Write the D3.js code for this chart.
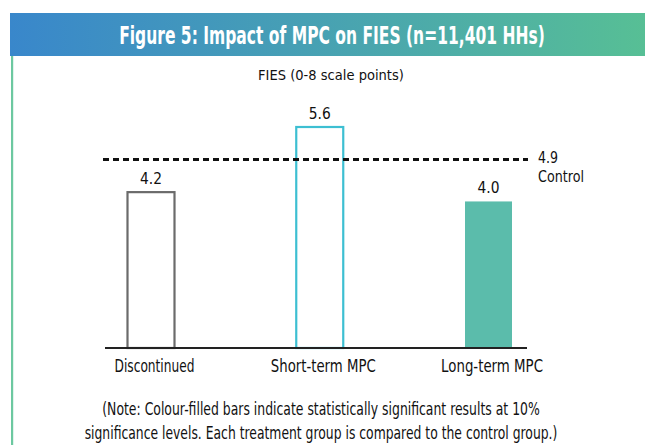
<!DOCTYPE html>
<html>
<head>
<meta charset="utf-8">
<script src="https://cdn.jsdelivr.net/npm/d3@7"></script>
<style>
  body { margin: 0; background: #fff; }
  svg text { font-family: "DejaVu Sans", sans-serif; }
</style>
</head>
<body>
<script>
var categories = ["Discontinued", "Short-term MPC", "Long-term MPC"];
var values = [4.2, 5.6, 4.0];
var labels = ["4.2", "5.6", "4.0"];
var significant = [false, false, true];
var controlValue = 4.9;
var controlLabels = ["4.9", "Control"];
var title = "Figure 5: Impact of MPC on FIES (n=11,401 HHs)";
var axisTitle = "FIES (0-8 scale points)";
var noteLines = ["(Note: Colour-filled bars indicate statistically significant results at 10%",
                 "significance levels. Each treatment group is compared to the control group.)"];

var width = 645, height = 445;
var barColors = ["#6b6b6b", "#3dbfd2", "#5bbcab"];

// the source uses a condensed face; squeeze DejaVu horizontally to the same widths
var catWidths = [80, 105, 102];
var ctlWidths = [20, 46];
var noteWidths = [438, 473];

// places text at (x, y) and scales it in x so it is w pixels wide
function condensed(sel, x, y, w, anchor) {
  sel.each(function(d, i) {
    var t = d3.select(this),
        xi = typeof x === "function" ? x(d, i) : x,
        yi = typeof y === "function" ? y(d, i) : y,
        wi = typeof w === "function" ? w(d, i) : w,
        natural = this.getComputedTextLength(),
        s = wi / natural;
    t.attr("x", 0).attr("y", 0)
     .attr("text-anchor", anchor || "middle")
     .attr("transform", "translate(" + xi + "," + yi + ") scale(" + s + ",1)");
  });
}

var svg = d3.select("body").append("svg")
    .attr("width", width)
    .attr("height", height);

// banner gradient
var grad = svg.append("defs").append("linearGradient")
    .attr("id", "banner")
    .attr("x1", "0%").attr("x2", "100%");
grad.append("stop").attr("offset", "0%").attr("stop-color", "#3987cb");
grad.append("stop").attr("offset", "50%").attr("stop-color", "#48a2b2");
grad.append("stop").attr("offset", "100%").attr("stop-color", "#57bf95");

svg.append("rect")
    .attr("x", 10).attr("y", 13)
    .attr("width", width - 10).attr("height", 43)
    .attr("fill", "url(#banner)");

// left border
svg.append("rect")
    .attr("x", 11).attr("y", 56)
    .attr("width", 2.2).attr("height", height - 56)
    .attr("fill", "#6cc8a0");

svg.append("text")
    .attr("fill", "#fff")
    .style("font-size", "25px")
    .style("font-weight", "bold")
    .text(title)
    .call(condensed, 332, 44, 426);

svg.append("text")
    .attr("fill", "#111")
    .style("font-size", "14.5px")
    .text(axisTitle)
    .call(condensed, 331, 80, 146);

// scales
var x = d3.scalePoint()
    .domain(categories)
    .range([151, 488.5]);

var y = d3.scaleLinear()
    .domain([0.85, 5.6])
    .range([348, 127]);

var barW = 47;

svg.selectAll(".bar")
    .data(values)
  .enter().append("rect")
    .attr("class", "bar")
    .attr("x", function(d, i) { return x(categories[i]) - barW / 2; })
    .attr("y", function(d) { return y(d); })
    .attr("width", barW)
    .attr("height", function(d) { return y.range()[0] - y(d); })
    .attr("fill", function(d, i) { return significant[i] ? barColors[i] : "none"; })
    .attr("stroke", function(d, i) { return significant[i] ? "none" : barColors[i]; })
    .attr("stroke-width", 2.2);

svg.selectAll(".val")
    .data(values)
  .enter().append("text")
    .attr("class", "val")
    .attr("fill", "#111")
    .style("font-size", "16.5px")
    .text(function(d, i) { return labels[i]; })
    .call(condensed,
          function(d, i) { return x(categories[i]); },
          function(d) { return y(d) - 8; },
          22);

// control dashed line
svg.append("line")
    .attr("x1", 103).attr("x2", 528)
    .attr("y1", y(controlValue)).attr("y2", y(controlValue))
    .attr("stroke", "#111")
    .attr("stroke-width", 3)
    .attr("stroke-dasharray", "6,4");

svg.selectAll(".ctl")
    .data(controlLabels)
  .enter().append("text")
    .attr("class", "ctl")
    .attr("fill", "#111")
    .style("font-size", "16.5px")
    .text(function(d) { return d; })
    .call(condensed, 538,
          function(d, i) { return y(controlValue) + 3 + i * 19; },
          function(d, i) { return ctlWidths[i]; },
          "start");

// baseline axis
var axis = svg.append("g")
    .attr("transform", "translate(0," + y.range()[0] + ")")
    .call(d3.axisBottom(x).tickSize(0).tickPadding(9));
axis.select(".domain").remove();
axis.append("line")
    .attr("x1", 105).attr("x2", 527)
    .attr("stroke", "#222").attr("stroke-width", 2);
axis.selectAll(".tick text")
    .attr("fill", "#111")
    .attr("dy", null)
    .style("font-size", "18px")
    .style("font-family", null)
    .call(condensed, 3, 24, function(d, i) { return catWidths[i]; });

svg.selectAll(".note")
    .data(noteLines)
  .enter().append("text")
    .attr("class", "note")
    .attr("fill", "#111")
    .style("font-size", "17px")
    .text(function(d) { return d; })
    .call(condensed, 321,
          function(d, i) { return 415 + i * 24; },
          function(d, i) { return noteWidths[i]; });
</script>
</body>
</html>
